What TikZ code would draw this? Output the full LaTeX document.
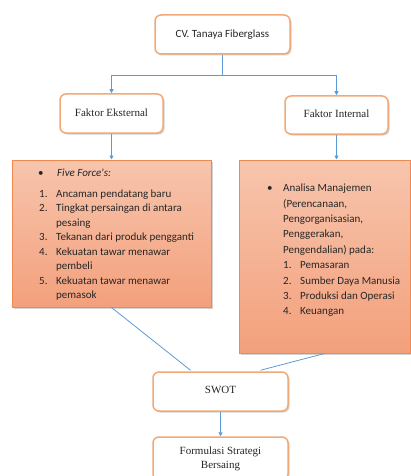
\documentclass[tikz,border=0pt]{standalone}
\usepackage{fontspec}
\setmainfont{Liberation Serif}
\newfontfamily\calfont{Carlito}
\usetikzlibrary{shadows,calc,arrows.meta}
\definecolor{conn}{HTML}{5B9BD5}
\definecolor{obord}{HTML}{F2A877}
\definecolor{sbord}{HTML}{EE8A50}
\definecolor{stop}{HTML}{F7C5AD}
\definecolor{sbot}{HTML}{F3A07C}
\definecolor{txt}{HTML}{262626}
\tikzset{
  whitebox/.style={draw=obord, line width=1.5pt, rounded corners=6pt, fill=white,
    drop shadow={shadow xshift=1.5pt, shadow yshift=-1.5pt, opacity=0.35},
    minimum width=135pt, minimum height=39pt, inner sep=0pt, align=center,
    font=\fontsize{11}{14}\selectfont, text=txt},
  salmon/.style={draw=sbord, line width=1pt, top color=stop, bottom color=sbot,
    drop shadow={shadow xshift=2pt, shadow yshift=-2pt, opacity=0.35},
    inner sep=0pt},
  conline/.style={draw=conn, line width=0.8pt},
  conarrow/.style={conline, -{Triangle[length=4pt,width=4pt]}},
  ln/.style={anchor=base west, inner sep=0pt, font=\calfont\fontsize{11}{13}\selectfont, text=txt},
}
\begin{document}
\begin{tikzpicture}[x=1pt,y=-1pt]
\useasboundingbox (0,0) rectangle (410,476);
% boxes
\node[whitebox] (cv) at (222.5,34.5) {\raisebox{2pt}{\calfont CV. Tanaya Fiberglass}};
\node[whitebox, minimum width=103pt] (fe) at (111.5,113.5) {\raisebox{2pt}{Faktor Eksternal}};
\node[whitebox, minimum width=103pt, minimum height=38pt] (fi) at (336.5,115) {\raisebox{2pt}{Faktor Internal}};
\node[salmon, minimum width=199pt, minimum height=147pt] (lb) at (111.5,233.5) {};
\node[salmon, minimum width=171pt, minimum height=193pt] (rb) at (324.5,256.5) {};
\node[whitebox] (swot) at (220.5,391.5) {\raisebox{3pt}{SWOT}};
\node[whitebox, minimum height=43pt] (form) at (220.5,458.5) {Formulasi Strategi\\Bersaing};
% connectors
\coordinate (j) at (222.5,75);
\draw[conline] (cv.south) -- (j);
\draw[conarrow] (j) -| (fe.north);
\draw[conarrow] (j) -| (fi.north);
\draw[conarrow] (fe.south) -- (lb.north);
\draw[conarrow] (fi.south) -- (fi.south |- rb.north);
\draw[conline] (lb.south) -- ($(swot.north)+(-30,-1)$);
\draw[conline] (rb.south) -- ($(swot.north)+(40,-1)$);
\draw[conarrow] (swot.south) -- (form.north);
% left text
\node[ln] (lbul) at (38,176) {\textbullet};
\node[ln] (l0) at (57,176) {\itshape Five Force's:};
\node[ln] (n1) at (39,197) {1.};
\node[ln] (l1) at (56,197) {Ancaman pendatang baru};
\node[ln] (n2) at (39,211.5) {2.};
\node[ln] (l2) at (56,211.5) {Tingkat persaingan di antara};
\node[ln] (l2b) at (56,226) {pesaing};
\node[ln] (n3) at (39,240.5) {3.};
\node[ln] (l3) at (56,240.5) {Tekanan dari produk pengganti};
\node[ln] (n4) at (39,255) {4.};
\node[ln] (l4) at (56,255) {Kekuatan tawar menawar};
\node[ln] (l4b) at (56,269.5) {pembeli};
\node[ln] (n5) at (39,284) {5.};
\node[ln] (l5) at (56,284) {Kekuatan tawar menawar};
\node[ln] (l5b) at (56,298.5) {pemasok};
% right text
\node[ln] (rbul) at (267,191.5) {\textbullet};
\node[ln] (r1) at (283,191.5) {Analisa Manajemen};
\node[ln] (r2) at (283,207) {(Perencanaan,};
\node[ln] (r3) at (283,222.3) {Pengorganisasian,};
\node[ln] (r4) at (283,237.7) {Penggerakan,};
\node[ln] (r5) at (283,253) {Pengendalian) pada:};
\node[ln] (m1) at (283,268.5) {1.};
\node[ln] (s1) at (300,268.5) {Pemasaran};
\node[ln] (m2) at (283,284) {2.};
\node[ln] (s2) at (300,284) {Sumber Daya Manusia};
\node[ln] (m3) at (283,299.3) {3.};
\node[ln] (s3) at (300,299.3) {Produksi dan Operasi};
\node[ln] (m4) at (283,314.7) {4.};
\node[ln] (s4) at (300,314.7) {Keuangan};
\end{tikzpicture}
\end{document}
